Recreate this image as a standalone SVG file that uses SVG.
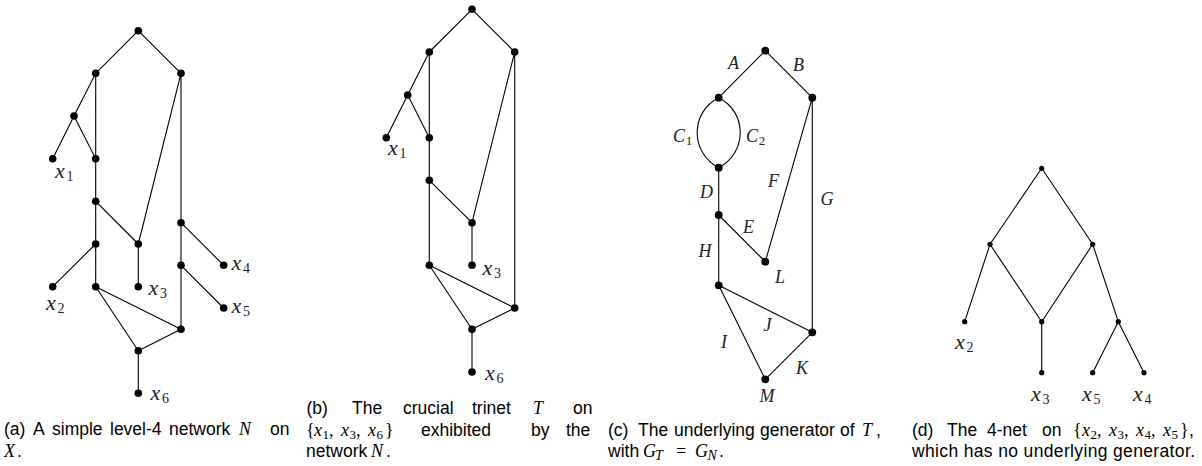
<svg xmlns="http://www.w3.org/2000/svg" width="1202" height="466" viewBox="0 0 1202 466">
<style>
.e{stroke:#000;stroke-width:1.1;fill:none}
.n{fill:#000}
.lbl{font-family:"Liberation Serif","Times New Roman",serif;font-style:italic;font-size:22px;fill:#222}
.sub{font-style:normal;font-size:14px}
.gl{font-family:"Liberation Serif","Times New Roman",serif;font-style:italic;font-size:18px;fill:#222;text-anchor:middle}
.gs{font-style:normal;font-size:13px}
.cap{font-family:"Liberation Sans",Arial,sans-serif;font-size:17.5px;fill:#000}
.m{font-family:"Liberation Serif","Times New Roman",serif;font-style:italic;font-size:18px}
.mu{font-family:"Liberation Serif","Times New Roman",serif;font-style:normal;font-size:18px}
.ms{font-family:"Liberation Serif","Times New Roman",serif;font-style:normal;font-size:13px}
.msi{font-family:"Liberation Serif","Times New Roman",serif;font-style:italic;font-size:14px}
</style>
<g id="connectors">
  <path class="e" d="M138.3,30.7L95.7,73.3M138.3,30.7L181,73.3M95.7,73.3L74,116M95.7,73.3V158.7M74,116L52.7,158.7M74,116L95.7,158.7M95.7,158.7V286.7M95.7,201.3L138.3,244M181,73.3L138.3,244M181,73.3V329.3M181,222.7L223.7,265.3M181,265.3L223.7,308M95.7,244L52.7,286.7M138.3,244V286.7M95.7,286.7L181,329.3M95.7,286.7L138.3,350.7M181,329.3L138.3,350.7M138.3,350.7V393.3"/>
  <path class="e" d="M472,9.3L429.3,52M472,9.3L514.7,52M429.3,52L407.7,95M429.3,52V137.7M407.7,95L386.3,137.7M407.7,95L429.3,137.7M429.3,137.7V265.3M429.3,180.3L472,222.7M514.7,52L472,222.7M514.7,52V308M472,222.7V265.3M429.3,265.3L514.7,308M429.3,265.3L472,329.3M514.7,308L472,329.3M472,329.3V372"/>
  <path class="e" d="M765.3,50.7L718.7,97.7M765.3,50.7L812.3,97.7M718.7,97.7C690,112 690,153 718.7,167.7M718.7,97.7C747.4,112 747.4,153 718.7,167.7M718.7,167.7V285.3M718.7,215L765.3,261.7M812.3,97.7L765.3,261.7M812.3,97.7V332.3M718.7,285.3L765.3,379.3M718.7,285.3L812.3,332.3M812.3,332.3L765.3,379.3"/>
  <path class="e" d="M1041.7,168.3L990,244.3M1041.7,168.3L1092.7,244.3M990,244.3L964.7,321.7M990,244.3L1041.7,321.7M1092.7,244.3L1041.7,321.7M1092.7,244.3L1118.3,321.7M1041.7,321.7V372.7M1118.3,321.7L1092.7,372.7M1118.3,321.7L1144,372.7"/>
</g>

<g id="a-root"><circle class="n" cx="138.3" cy="30.7" r="3.8"/></g>
<g id="a-l"><circle class="n" cx="95.7" cy="73.3" r="3.8"/></g>
<g id="a-r"><circle class="n" cx="181" cy="73.3" r="3.8"/></g>
<g id="a-p"><circle class="n" cx="74" cy="116" r="3.8"/></g>
<g id="a-x1"><circle class="n" cx="52.7" cy="158.7" r="3.8"/><text class="lbl" x="55" y="178">x<tspan class="sub" x="66.5" dy="3">1</tspan></text></g>
<g id="a-b"><circle class="n" cx="95.7" cy="158.7" r="3.8"/></g>
<g id="a-c"><circle class="n" cx="95.7" cy="201.3" r="3.8"/></g>
<g id="a-d"><circle class="n" cx="95.7" cy="244" r="3.8"/></g>
<g id="a-x2"><circle class="n" cx="52.7" cy="286.7" r="3.8"/><text class="lbl" x="46" y="310">x<tspan class="sub" x="57.5" dy="3">2</tspan></text></g>
<g id="a-e"><circle class="n" cx="95.7" cy="286.7" r="3.8"/></g>
<g id="a-f"><circle class="n" cx="138.3" cy="244" r="3.8"/></g>
<g id="a-x3"><circle class="n" cx="138.3" cy="286.7" r="3.8"/><text class="lbl" x="148.5" y="295">x<tspan class="sub" x="160" dy="3">3</tspan></text></g>
<g id="a-g"><circle class="n" cx="181" cy="222.7" r="3.8"/></g>
<g id="a-x4"><circle class="n" cx="223.7" cy="265.3" r="3.8"/><text class="lbl" x="231.5" y="270">x<tspan class="sub" x="243" dy="3">4</tspan></text></g>
<g id="a-h"><circle class="n" cx="181" cy="265.3" r="3.8"/></g>
<g id="a-x5"><circle class="n" cx="223.7" cy="308" r="3.8"/><text class="lbl" x="231.5" y="313">x<tspan class="sub" x="243" dy="3">5</tspan></text></g>
<g id="a-i"><circle class="n" cx="181" cy="329.3" r="3.8"/></g>
<g id="a-j"><circle class="n" cx="138.3" cy="350.7" r="3.8"/></g>
<g id="a-x6"><circle class="n" cx="138.3" cy="393.3" r="3.8"/><text class="lbl" x="150.5" y="400">x<tspan class="sub" x="162" dy="3">6</tspan></text></g>

<g id="b-root"><circle class="n" cx="472" cy="9.3" r="3.8"/></g>
<g id="b-l"><circle class="n" cx="429.3" cy="52" r="3.8"/></g>
<g id="b-r"><circle class="n" cx="514.7" cy="52" r="3.8"/></g>
<g id="b-p"><circle class="n" cx="407.7" cy="95" r="3.8"/></g>
<g id="b-x1"><circle class="n" cx="386.3" cy="137.7" r="3.8"/><text class="lbl" x="388" y="155">x<tspan class="sub" x="399.5" dy="3">1</tspan></text></g>
<g id="b-b"><circle class="n" cx="429.3" cy="137.7" r="3.8"/></g>
<g id="b-c"><circle class="n" cx="429.3" cy="180.3" r="3.8"/></g>
<g id="b-f"><circle class="n" cx="472" cy="222.7" r="3.8"/></g>
<g id="b-x3"><circle class="n" cx="472" cy="265.3" r="3.8"/><text class="lbl" x="482.5" y="275">x<tspan class="sub" x="494" dy="3">3</tspan></text></g>
<g id="b-e"><circle class="n" cx="429.3" cy="265.3" r="3.8"/></g>
<g id="b-i"><circle class="n" cx="514.7" cy="308" r="3.8"/></g>
<g id="b-j"><circle class="n" cx="472" cy="329.3" r="3.8"/></g>
<g id="b-x6"><circle class="n" cx="472" cy="372" r="3.8"/><text class="lbl" x="485" y="380">x<tspan class="sub" x="496.5" dy="3">6</tspan></text></g>

<g id="c-top"><circle class="n" cx="765.3" cy="50.7" r="3.9"/></g>
<g id="c-u"><circle class="n" cx="718.7" cy="97.7" r="3.9"/></g>
<g id="c-v"><circle class="n" cx="812.3" cy="97.7" r="3.9"/></g>
<g id="c-w"><circle class="n" cx="718.7" cy="167.7" r="3.9"/></g>
<g id="c-y"><circle class="n" cx="718.7" cy="215" r="3.9"/></g>
<g id="c-L"><circle class="n" cx="765.3" cy="261.7" r="3.9"/><text class="gl" x="780" y="283">L</text></g>
<g id="c-z"><circle class="n" cx="718.7" cy="285.3" r="3.9"/></g>
<g id="c-k"><circle class="n" cx="812.3" cy="332.3" r="3.9"/></g>
<g id="c-M"><circle class="n" cx="765.3" cy="379.3" r="3.9"/><text class="gl" x="767" y="402">M</text></g>
<g id="c-edge-labels">
  <text class="gl" x="733.5" y="69">A</text>
  <text class="gl" x="798.5" y="70.5">B</text>
  <text class="gl" x="679" y="142">C<tspan class="gs" x="689" dy="3">1</tspan></text>
  <text class="gl" x="752" y="142">C<tspan class="gs" x="762" dy="3">2</tspan></text>
  <text class="gl" x="706.5" y="198">D</text>
  <text class="gl" x="748.5" y="233">E</text>
  <text class="gl" x="773.5" y="187">F</text>
  <text class="gl" x="827" y="205">G</text>
  <text class="gl" x="705" y="257">H</text>
  <text class="gl" x="724" y="348">I</text>
  <text class="gl" x="767.5" y="331">J</text>
  <text class="gl" x="802" y="374">K</text>
</g>

<g id="d-root"><circle class="n" cx="1041.7" cy="168.3" r="2.6"/></g>
<g id="d-l"><circle class="n" cx="990" cy="244.3" r="2.6"/></g>
<g id="d-r"><circle class="n" cx="1092.7" cy="244.3" r="2.6"/></g>
<g id="d-x2"><circle class="n" cx="964.7" cy="321.7" r="2.6"/><text class="lbl" x="955" y="349">x<tspan class="sub" x="966.5" dy="3">2</tspan></text></g>
<g id="d-mid"><circle class="n" cx="1041.7" cy="321.7" r="2.6"/></g>
<g id="d-rr"><circle class="n" cx="1118.3" cy="321.7" r="2.6"/></g>
<g id="d-x3"><circle class="n" cx="1041.7" cy="372.7" r="2.6"/><text class="lbl" x="1031" y="401">x<tspan class="sub" x="1042.5" dy="3">3</tspan></text></g>
<g id="d-x5"><circle class="n" cx="1092.7" cy="372.7" r="2.6"/><text class="lbl" x="1082" y="401">x<tspan class="sub" x="1093.5" dy="3">5</tspan></text></g>
<g id="d-x4"><circle class="n" cx="1144" cy="372.7" r="2.6"/><text class="lbl" x="1133" y="401">x<tspan class="sub" x="1144.5" dy="3">4</tspan></text></g>

<g id="caption-a" class="cap">
  <text y="434.5"><tspan x="4">(a)</tspan><tspan x="33">A</tspan><tspan x="52">simple</tspan><tspan x="110">level-4</tspan><tspan x="169">network</tspan><tspan class="m" x="239">N</tspan><tspan x="270">on</tspan></text>
  <text y="457"><tspan class="m" x="4">X</tspan><tspan x="17">.</tspan></text>
</g>
<g id="caption-b" class="cap">
  <text y="414"><tspan x="306.5">(b)</tspan><tspan x="352">The</tspan><tspan x="403">crucial</tspan><tspan x="472">trinet</tspan><tspan class="m" x="533">T</tspan><tspan x="573">on</tspan></text>
  <text y="435.5"><tspan class="mu" x="306">{</tspan><tspan class="m" x="314">x</tspan><tspan class="ms" x="322.5" dy="3">1</tspan><tspan class="mu" x="329" dy="-3">,</tspan><tspan class="m" x="341">x</tspan><tspan class="ms" x="349.5" dy="3">3</tspan><tspan class="mu" x="356" dy="-3">,</tspan><tspan class="m" x="368">x</tspan><tspan class="ms" x="376.5" dy="3">6</tspan><tspan class="mu" x="385" dy="-3">}</tspan><tspan x="421">exhibited</tspan><tspan x="531">by</tspan><tspan x="566">the</tspan></text>
  <text y="457"><tspan x="306">network</tspan><tspan class="m" x="371">N</tspan><tspan x="386">.</tspan></text>
</g>
<g id="caption-c" class="cap">
  <text y="435.5"><tspan x="608">(c)</tspan><tspan x="638">The</tspan><tspan x="674">underlying</tspan><tspan x="760">generator</tspan><tspan x="840">of</tspan><tspan class="m" x="862">T</tspan><tspan x="876">,</tspan></text>
  <text y="457"><tspan x="608">with</tspan><tspan class="m" x="643">G</tspan><tspan class="msi" x="655" dy="3">T</tspan><tspan class="mu" x="676" dy="-3">=</tspan><tspan class="m" x="695">G</tspan><tspan class="msi" x="707.5" dy="3">N</tspan><tspan x="719" dy="-3">.</tspan></text>
</g>
<g id="caption-d" class="cap">
  <text y="435.5"><tspan x="912">(d)</tspan><tspan x="947">The</tspan><tspan x="987">4-net</tspan><tspan x="1042">on</tspan><tspan class="mu" x="1073">{</tspan><tspan class="m" x="1082">x</tspan><tspan class="ms" x="1090.5" dy="3">2</tspan><tspan class="mu" x="1097" dy="-3">,</tspan><tspan class="m" x="1109">x</tspan><tspan class="ms" x="1117.5" dy="3">3</tspan><tspan class="mu" x="1124" dy="-3">,</tspan><tspan class="m" x="1136">x</tspan><tspan class="ms" x="1144.5" dy="3">4</tspan><tspan class="mu" x="1151" dy="-3">,</tspan><tspan class="m" x="1163">x</tspan><tspan class="ms" x="1171.5" dy="3">5</tspan><tspan class="mu" x="1180" dy="-3">}</tspan><tspan x="1189">,</tspan></text>
  <text x="912" y="457" textLength="283" lengthAdjust="spacing">which has no underlying generator.</text>
</g>
</svg>
